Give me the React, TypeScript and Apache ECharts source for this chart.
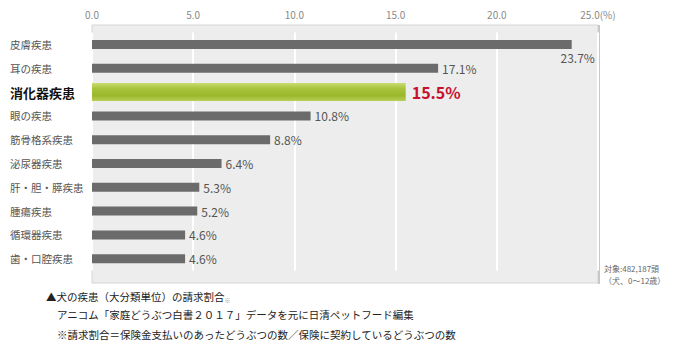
import React, { useEffect, useRef } from "react";
import * as echarts from "echarts";

const categories = [
  "皮膚疾患",
  "耳の疾患",
  "消化器疾患",
  "眼の疾患",
  "筋骨格系疾患",
  "泌尿器疾患",
  "肝・胆・膵疾患",
  "腫瘍疾患",
  "循環器疾患",
  "歯・口腔疾患",
];
const values = [23.7, 17.1, 15.5, 10.8, 8.8, 6.4, 5.3, 5.2, 4.6, 4.6];
const highlightIndex = 2;
const axisMin = 0;
const axisMax = 25;
const axisInterval = 5;
const unitLabel = "(%)";
const noteLines = ["対象:482,187頭", "（犬、0〜12歳）"];
const captionTitle = "▲犬の疾患（大分類単位）の請求割合";
const captionMark = "※";
const captionSource = "アニコム「家庭どうぶつ白書２０１７」データを元に日清ペットフード編集";
const captionDef = "※請求割合＝保険金支払いのあったどうぶつの数／保険に契約しているどうぶつの数";

const FONT = '"Noto Sans CJK JP", "Noto Sans", sans-serif';

export default function App() {
  const ref = useRef<HTMLDivElement>(null);
  useEffect(() => {
    if (!ref.current) return;
    const chart = echarts.init(ref.current, null, { renderer: "svg" });

    const gridLeft = 92;
    const gridWidth = 506;
    const bgTop = 25;
    const bgBottom = 283;
    const barTop = 32.6;
    const barHeight = 238;

    const grayData = values.map((v, i) => {
      if (i === highlightIndex) return "-";
      if (i === 0) {
        return {
          value: v,
          label: {
            position: ["100%", "100%"],
            align: "center",
            verticalAlign: "top",
            offset: [6, 2],
          },
        };
      }
      return v;
    });
    const greenData = values.map((v, i) => (i === highlightIndex ? v : "-"));

    chart.setOption({
      animation: false,
      grid: {
        left: gridLeft,
        top: barTop,
        width: gridWidth,
        height: barHeight,
      },
      xAxis: {
        type: "value",
        position: "top",
        offset: barTop - bgTop,
        z: 6,
        min: axisMin,
        max: axisMax,
        interval: axisInterval,
        axisLine: { show: false },
        axisTick: { show: false },
        splitLine: { show: true, lineStyle: { color: "#ffffff", width: 2 } },
        axisLabel: {
          color: "#8a8a8a",
          fontSize: 10,
          fontFamily: FONT,
          margin: 6,
          formatter: (v: number) =>
            v === axisMax ? `${v.toFixed(1)}${unitLabel}` : v.toFixed(1),
        },
      },
      yAxis: [
        {
          type: "category",
          inverse: true,
          data: categories,
          z: 6,
          axisLine: { show: false },
          axisTick: { show: false },
          splitLine: { show: false },
          axisLabel: {
            align: "left",
            margin: 82,
            formatter: (v: string, i: number) =>
              i === highlightIndex ? `{hl|${v}}` : `{n|${v}}`,
            rich: {
              n: { color: "#555555", fontSize: 10.5, fontFamily: FONT },
              hl: {
                color: "#111111",
                fontSize: 13,
                fontWeight: "bold",
                fontFamily: FONT,
              },
            },
          },
        },
        {
          type: "category",
          inverse: true,
          data: categories,
          show: false,
        },
      ],
      series: [
        {
          type: "bar",
          yAxisIndex: 0,
          data: grayData,
          barWidth: 9,
          z: 7,
          itemStyle: { color: "#6b6b6b" },
          label: {
            show: true,
            position: "right",
            distance: 4,
            color: "#555555",
            fontSize: 12,
            fontFamily: FONT,
            formatter: (p: any) => `${p.value}%`,
          },
        },
        {
          type: "bar",
          yAxisIndex: 1,
          data: greenData,
          barWidth: 18,
          z: 7,
          itemStyle: {
            color: new echarts.graphic.LinearGradient(0, 0, 0, 1, [
              { offset: 0, color: "#c9dc72" },
              { offset: 0.3, color: "#a9c43c" },
              { offset: 0.7, color: "#9bb82c" },
              { offset: 1, color: "#b8cf58" },
            ]),
          },
          label: {
            show: true,
            position: "right",
            distance: 6,
            color: "#c8102e",
            fontSize: 16,
            fontWeight: "bold",
            fontFamily: FONT,
            formatter: (p: any) => `${p.value}%`,
          },
        },
      ],
      graphic: [
        {
          type: "rect",
          z: 5,
          silent: true,
          shape: {
            x: gridLeft,
            y: bgTop,
            width: gridWidth,
            height: bgBottom - bgTop,
          },
          style: { fill: "#ededed", stroke: "#d6d6d6", lineWidth: 1 },
        },
        {
          type: "line",
          z: 5,
          silent: true,
          shape: {
            x1: gridLeft + gridWidth + 1,
            y1: bgTop,
            x2: gridLeft + gridWidth + 1,
            y2: bgBottom + 1,
          },
          style: { stroke: "#c8c8c8", lineWidth: 2 },
        },
        {
          type: "text",
          left: 604,
          top: 262,
          style: {
            text: noteLines.join("\n"),
            fill: "#666666",
            font: `8px ${FONT}`,
            lineHeight: 12,
          },
        },
        {
          type: "text",
          left: 46,
          top: 291,
          style: {
            text: `{t|${captionTitle}}{m|${captionMark}}`,
            rich: {
              t: { fill: "#222222", fontSize: 10.5, fontFamily: FONT },
              m: {
                fill: "#999999",
                fontSize: 6,
                fontFamily: FONT,
                padding: [8, 0, 0, 0],
              },
            },
          } as any,
        },
        {
          type: "text",
          left: 57,
          top: 309,
          style: {
            text: captionSource,
            fill: "#222222",
            font: `10.5px ${FONT}`,
          },
        },
        {
          type: "text",
          left: 57,
          top: 329,
          style: {
            text: captionDef,
            fill: "#222222",
            font: `10.5px ${FONT}`,
          },
        },
      ],
    });
    return () => chart.dispose();
  }, []);
  return (
    <div
      ref={ref}
      style={{ position: "absolute", left: 0, top: 0, width: 680, height: 356 }}
    />
  );
}
